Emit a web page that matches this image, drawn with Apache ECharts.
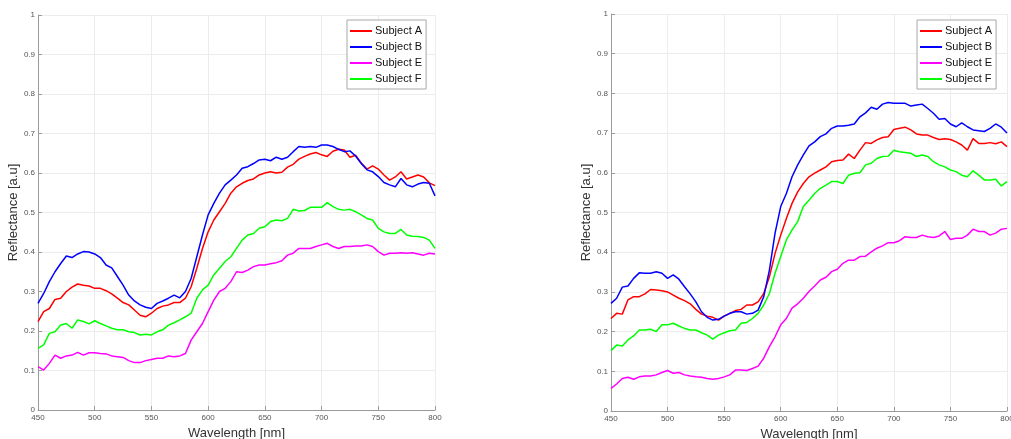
<!DOCTYPE html>
<html>
<head>
<meta charset="utf-8">
<script src="https://cdn.jsdelivr.net/npm/echarts@6/dist/echarts.min.js"></script>
<style>html,body{margin:0;padding:0;background:#fff;overflow:hidden}#c{width:1011px;height:439px}</style>
</head>
<body>
<div id="c"></div>
<script>
// Wavelengths (nm), 450..800 every 5 nm
const wavelengths = [450,455,460,465,470,475,480,485,490,495,500,505,510,515,520,525,530,535,540,545,550,555,560,565,570,575,580,585,590,595,600,605,610,615,620,625,630,635,640,645,650,655,660,665,670,675,680,685,690,695,700,705,710,715,720,725,730,735,740,745,750,755,760,765,770,775,780,785,790,795,800];

const seriesNames = ['Subject A','Subject B','Subject E','Subject F'];
const xTicks = [450,500,550,600,650,700,750,800];

// Left panel
const leftA = [0.224,0.249,0.257,0.280,0.283,0.300,0.311,0.319,0.316,0.314,0.308,0.308,0.302,0.294,0.283,0.272,0.266,0.253,0.240,0.236,0.245,0.257,0.263,0.266,0.272,0.272,0.283,0.312,0.359,0.409,0.451,0.481,0.502,0.523,0.549,0.565,0.574,0.581,0.585,0.595,0.600,0.603,0.600,0.602,0.615,0.622,0.635,0.642,0.648,0.652,0.646,0.642,0.655,0.660,0.658,0.640,0.645,0.625,0.610,0.618,0.610,0.595,0.582,0.590,0.603,0.585,0.590,0.595,0.590,0.575,0.568];
const leftB = [0.270,0.295,0.325,0.350,0.371,0.390,0.386,0.395,0.401,0.400,0.395,0.386,0.367,0.360,0.338,0.316,0.291,0.276,0.266,0.260,0.257,0.270,0.276,0.283,0.291,0.284,0.300,0.333,0.388,0.443,0.494,0.523,0.549,0.570,0.582,0.595,0.612,0.616,0.624,0.633,0.635,0.631,0.640,0.635,0.640,0.654,0.667,0.665,0.667,0.665,0.671,0.671,0.667,0.660,0.654,0.656,0.643,0.624,0.608,0.603,0.591,0.576,0.570,0.565,0.586,0.570,0.565,0.572,0.576,0.574,0.542];
const leftE = [0.110,0.101,0.118,0.139,0.131,0.137,0.139,0.146,0.139,0.145,0.145,0.143,0.142,0.137,0.135,0.133,0.125,0.120,0.120,0.125,0.128,0.131,0.131,0.137,0.135,0.137,0.143,0.177,0.198,0.219,0.249,0.278,0.300,0.308,0.325,0.350,0.348,0.354,0.363,0.367,0.367,0.370,0.373,0.378,0.392,0.397,0.409,0.409,0.409,0.414,0.418,0.422,0.414,0.409,0.414,0.414,0.415,0.415,0.418,0.414,0.401,0.392,0.397,0.397,0.398,0.397,0.398,0.395,0.392,0.397,0.395];
const leftF = [0.156,0.165,0.194,0.198,0.215,0.219,0.207,0.228,0.224,0.218,0.226,0.219,0.213,0.207,0.203,0.203,0.198,0.196,0.190,0.192,0.190,0.198,0.203,0.215,0.221,0.228,0.236,0.245,0.283,0.304,0.316,0.342,0.359,0.376,0.388,0.409,0.430,0.443,0.447,0.460,0.464,0.477,0.481,0.479,0.485,0.508,0.504,0.505,0.513,0.513,0.513,0.525,0.515,0.508,0.506,0.508,0.502,0.494,0.485,0.481,0.460,0.451,0.447,0.447,0.457,0.443,0.440,0.439,0.437,0.430,0.409];

// Right panel
const rightA = [0.233,0.246,0.244,0.280,0.288,0.288,0.295,0.306,0.305,0.303,0.300,0.292,0.284,0.278,0.270,0.256,0.244,0.239,0.236,0.229,0.239,0.246,0.253,0.256,0.267,0.267,0.275,0.296,0.338,0.397,0.443,0.485,0.523,0.552,0.573,0.590,0.599,0.607,0.615,0.628,0.631,0.632,0.647,0.636,0.657,0.676,0.674,0.683,0.689,0.691,0.709,0.712,0.715,0.708,0.698,0.695,0.695,0.689,0.684,0.686,0.684,0.678,0.670,0.657,0.686,0.674,0.674,0.676,0.673,0.678,0.666];
const rightB = [0.271,0.284,0.312,0.315,0.334,0.348,0.347,0.347,0.351,0.347,0.334,0.343,0.332,0.313,0.295,0.275,0.250,0.236,0.229,0.231,0.239,0.246,0.250,0.250,0.244,0.246,0.254,0.288,0.355,0.448,0.515,0.548,0.590,0.620,0.645,0.668,0.678,0.691,0.698,0.712,0.718,0.718,0.720,0.723,0.741,0.751,0.765,0.760,0.773,0.777,0.775,0.775,0.775,0.768,0.771,0.773,0.762,0.750,0.735,0.737,0.723,0.716,0.726,0.716,0.708,0.706,0.704,0.712,0.723,0.715,0.700];
const rightE = [0.057,0.068,0.082,0.085,0.080,0.086,0.088,0.088,0.091,0.097,0.102,0.095,0.097,0.091,0.088,0.086,0.085,0.082,0.080,0.082,0.086,0.091,0.103,0.103,0.102,0.107,0.113,0.133,0.162,0.187,0.217,0.233,0.259,0.270,0.284,0.301,0.315,0.330,0.337,0.351,0.357,0.372,0.380,0.380,0.389,0.390,0.401,0.410,0.416,0.424,0.424,0.429,0.439,0.437,0.437,0.443,0.439,0.437,0.441,0.452,0.432,0.435,0.435,0.443,0.458,0.452,0.452,0.443,0.448,0.458,0.460];
const rightF = [0.152,0.166,0.164,0.179,0.189,0.204,0.204,0.206,0.200,0.217,0.217,0.221,0.214,0.208,0.204,0.204,0.197,0.191,0.181,0.191,0.197,0.202,0.204,0.221,0.223,0.233,0.246,0.267,0.296,0.347,0.389,0.431,0.456,0.477,0.515,0.531,0.548,0.561,0.569,0.578,0.578,0.573,0.594,0.599,0.600,0.620,0.624,0.636,0.641,0.642,0.657,0.653,0.651,0.649,0.641,0.645,0.641,0.628,0.620,0.615,0.607,0.603,0.594,0.590,0.605,0.594,0.582,0.582,0.584,0.567,0.578];

const colors = ['#ff0000','#0000ff','#ff00ff','#00ff00'];

function pairs(vals){ return wavelengths.map((w,i)=>[w, vals[i]]); }

function xAxis(gi){
  return {
    type:'value', gridIndex:gi, min:450, max:800, interval:50,
    name:'Wavelength [nm]', nameLocation:'middle', nameGap:15,
    nameTextStyle:{fontFamily:'Liberation Sans', fontSize:13, color:'#333'},
    axisLine:{lineStyle:{color:'#9a9a9a', width:1}},
    axisTick:{show:true, inside:true, length:4, lineStyle:{color:'#9a9a9a'}},
    axisLabel:{fontFamily:'Liberation Sans', fontSize:8, color:'#555', margin:4, showMinLabel:true, showMaxLabel:true, hideOverlap:false},
    splitLine:{show:true, lineStyle:{color:'#ececec', width:1}}
  };
}
function yAxis(gi){
  return {
    type:'value', gridIndex:gi, min:0, max:1, interval:0.1,
    name:'Reflectance [a.u]', nameLocation:'middle', nameGap:15, nameRotate:90,
    nameTextStyle:{fontFamily:'Liberation Sans', fontSize:13, color:'#333'},
    axisLine:{show:true, lineStyle:{color:'#9a9a9a', width:1}},
    axisTick:{show:true, inside:true, length:4, lineStyle:{color:'#9a9a9a'}},
    axisLabel:{fontFamily:'Liberation Sans', fontSize:8, color:'#555', margin:3},
    splitLine:{show:true, lineStyle:{color:'#ececec', width:1}}
  };
}
function legend(left, top){
  return {
    left:left, top:top, orient:'vertical', data:seriesNames,
    icon:'rect', itemWidth:22, itemHeight:2, itemGap:0,
    backgroundColor:'#fff', borderColor:'#a8a8a8', borderWidth:1, borderRadius:0,
    padding:[3,4,2,3],
    textStyle:{fontFamily:'Liberation Sans', fontSize:11, color:'#111', lineHeight:16, padding:[0,0,0,-2]}
  };
}

const leftSets = [leftA,leftB,leftE,leftF];
const rightSets = [rightA,rightB,rightE,rightF];
const series = [];
leftSets.forEach((d,i)=>series.push({type:'line', name:seriesNames[i], xAxisIndex:0, yAxisIndex:0, data:pairs(d), showSymbol:false, symbol:'none', lineStyle:{width:1.5, color:colors[i]}, itemStyle:{color:colors[i]}, animation:false}));
rightSets.forEach((d,i)=>series.push({type:'line', name:seriesNames[i], xAxisIndex:1, yAxisIndex:1, data:pairs(d), showSymbol:false, symbol:'none', lineStyle:{width:1.5, color:colors[i]}, itemStyle:{color:colors[i]}, animation:false}));

const chart = echarts.init(document.getElementById('c'), null, {renderer:'canvas'});
chart.setOption({
  backgroundColor:'#fff',
  animation:false,
  grid:[
    {left:38, right:576, top:15, bottom:29, containLabel:false, outerBoundsMode:'none'},
    {left:611, right:4, top:14, bottom:28, containLabel:false, outerBoundsMode:'none'}
  ],
  xAxis:[xAxis(0), xAxis(1)],
  yAxis:[yAxis(0), yAxis(1)],
  legend:[legend(347,20), legend(917,20)],
  series:series
});
</script>
</body>
</html>
